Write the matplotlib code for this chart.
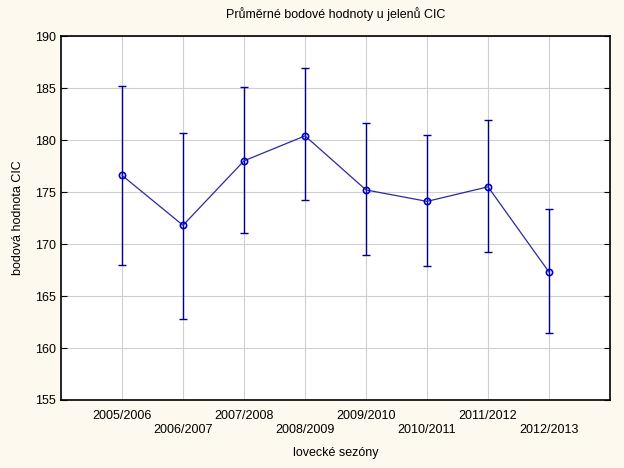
import numpy as np
import matplotlib.pyplot as plt

plt.rcParams["font.family"] = ["Liberation Sans", "DejaVu Sans"]

# Data
sezony = ["2005/2006", "2006/2007", "2007/2008", "2008/2009",
          "2009/2010", "2010/2011", "2011/2012", "2012/2013"]
prumer = [176.6, 171.8, 178.0, 180.4, 175.2, 174.1, 175.5, 167.3]
horni = [185.2, 180.7, 185.1, 186.9, 181.6, 180.5, 181.9, 173.4]
dolni = [168.0, 162.8, 171.1, 174.2, 168.9, 167.9, 169.2, 161.4]

x = np.arange(1, len(sezony) + 1)
prumer = np.array(prumer)
err = [prumer - np.array(dolni), np.array(horni) - prumer]

fig = plt.figure(figsize=(6.24, 4.68), dpi=100, facecolor="#fdf9ef")
ax = fig.add_axes([0.0978, 0.1453, 0.8798, 0.7777])
ax.set_facecolor("white")

ax.errorbar(x, prumer, yerr=err, fmt="none", ecolor="#00008b",
            elinewidth=1.0, capsize=3, capthick=1.0, zorder=3)
ax.plot(x, prumer, color="#2a2aa0", linewidth=0.9, zorder=4)
ax.plot(x, prumer, "o", markersize=4.5, markerfacecolor="none",
        markeredgecolor="#0000cc", markeredgewidth=1.2, zorder=5)

ax.set_xlim(0, 9)
ax.set_ylim(155, 190)
ax.set_yticks(np.arange(155, 191, 5))
ax.set_xticks(x)
labels = [s if i % 2 == 0 else "\n" + s for i, s in enumerate(sezony)]
ax.set_xticklabels(labels, fontsize=9, linespacing=1.25)
ax.tick_params(axis="y", labelsize=9, direction="in", right=True, length=4)
ax.tick_params(axis="x", length=0, pad=7)
ax.grid(True, color="#d0d0d0", linewidth=0.8)
ax.set_axisbelow(True)
for s in ax.spines.values():
    s.set_linewidth(1.2)

ax.set_title("Průměrné bodové hodnoty u jelenů CIC", fontsize=9, pad=13)
ax.set_xlabel("lovecké sezóny", fontsize=9, labelpad=8)
ax.set_ylabel("bodová hodnota CIC", fontsize=9, labelpad=8)

plt.savefig("out.png", dpi=100, facecolor=fig.get_facecolor())
